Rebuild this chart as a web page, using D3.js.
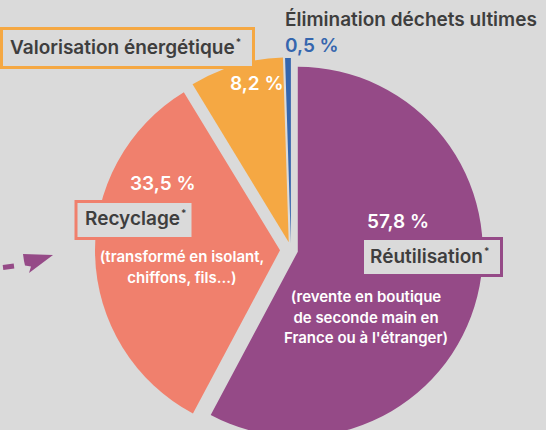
<!DOCTYPE html>
<html>
<head>
<meta charset="utf-8">
<script src="https://cdn.jsdelivr.net/npm/d3@7"></script>
<style>
  body { margin: 0; background: #dadada; }
  svg { display: block; font-family: Inter, Roboto, "Noto Sans", sans-serif; }
  .name { fill: #3e3e3e; font-weight: 600; font-size: 19px; }
  .pct { fill: #fff; font-weight: 600; font-size: 19px; }
  .note { fill: #fff; font-weight: 600; font-size: 15px; text-anchor: middle; }
</style>
</head>
<body>
<div id="chart"></div>
<script>
// data
const categories = ["Réutilisation", "Recyclage", "Valorisation énergétique", "Élimination déchets ultimes"];
const values = [57.8, 33.5, 8.2, 0.5];
const valueLabels = ["57,8 %", "33,5 %", "8,2 %", "0,5 %"];
const colors = ["#954a87", "#f0806d", "#f5a843", "#3566ae"];

const width = 546, height = 430;
const cx = 291, cy = 250, radius = 185;
const explode = [7, 11, 8, 7];

const svg = d3.select("#chart").append("svg")
	.attr("width", width)
	.attr("height", height);

svg.append("rect")
	.attr("width", width)
	.attr("height", height)
	.attr("fill", "#dadada");

let pie = d3.pie().sort(null).value(d => d);
let arc = d3.arc().innerRadius(0).outerRadius(radius);
let slices = pie(values);

svg.append("g")
	.attr("class", "slices")
	.selectAll("path")
	.data(slices)
	.enter()
	.append("path")
	.attr("fill", (d, i) => colors[i])
	.attr("transform", function (d, i) {
		let mid = (d.startAngle + d.endAngle) / 2;
		let x = cx + explode[i] * Math.sin(mid);
		let y = cy - explode[i] * Math.cos(mid);
		return "translate(" + x + "," + y + ")";
	})
	.attr("d", arc);

// label boxes (x, y, w, h, colour index)
const boxes = [
	{i: 0, x: 362.5, y: 238.5, w: 139, h: 37},
	{i: 1, x: 76, y: 201.5, w: 117, h: 37},
	{i: 2, x: 1.5, y: 28.5, w: 252, h: 39}
];

svg.selectAll(".box")
	.data(boxes)
	.enter()
	.append("rect")
	.attr("class", "box")
	.attr("x", d => d.x)
	.attr("y", d => d.y)
	.attr("width", d => d.w)
	.attr("height", d => d.h)
	.attr("fill", "#dadada")
	.attr("stroke", d => colors[d.i])
	.attr("stroke-width", 3);

// category names
const names = [
	{i: 0, x: 370, y: 263, star: true},
	{i: 1, x: 85, y: 225, star: true},
	{i: 2, x: 10, y: 54, star: true},
	{i: 3, x: 285, y: 26, star: false}
];

names.forEach(function (n) {
	let t = svg.append("text")
		.attr("class", "name")
		.attr("x", n.x)
		.attr("y", n.y)
		.text(categories[n.i]);
	if (n.star) {
		t.append("tspan")
			.attr("dy", -8)
			.attr("dx", 1)
			.style("font-size", "10px")
			.text("*");
	}
});

// percentages
const pcts = [
	{i: 0, x: 367, y: 228, fill: "#fff"},
	{i: 1, x: 130, y: 190, fill: "#fff"},
	{i: 2, x: 230, y: 90, fill: "#fff"},
	{i: 3, x: 285, y: 52, fill: "#3566ae"}
];

svg.selectAll(".pct")
	.data(pcts)
	.enter()
	.append("text")
	.attr("class", "pct")
	.attr("x", d => d.x)
	.attr("y", d => d.y)
	.style("fill", d => d.fill)
	.text(d => valueLabels[d.i]);

// notes
const recyclageNote = ["(transformé en isolant,", "chiffons, fils...)"];
const reutilNote = ["(revente en boutique", "de seconde main en", "France ou à l'étranger)"];

function note(lines, x, y) {
	svg.append("g")
		.selectAll("text")
		.data(lines)
		.enter()
		.append("text")
		.attr("class", "note")
		.attr("x", x)
		.attr("y", (d, i) => y + i * 20.5)
		.text(d => d);
}
note(recyclageNote, 182, 262);
note(reutilNote, 366, 302);

// arrow on the left
const purple = colors[0];
svg.append("line")
	.attr("x1", 3).attr("y1", 267.5)
	.attr("x2", 14).attr("y2", 266)
	.attr("stroke", purple)
	.attr("stroke-width", 5);
svg.append("path")
	.attr("d", "M23,254 L53,255 L29,273 L31,266.5 L25,265.5 L24,261 Z")
	.attr("fill", purple);
</script>
</body>
</html>
